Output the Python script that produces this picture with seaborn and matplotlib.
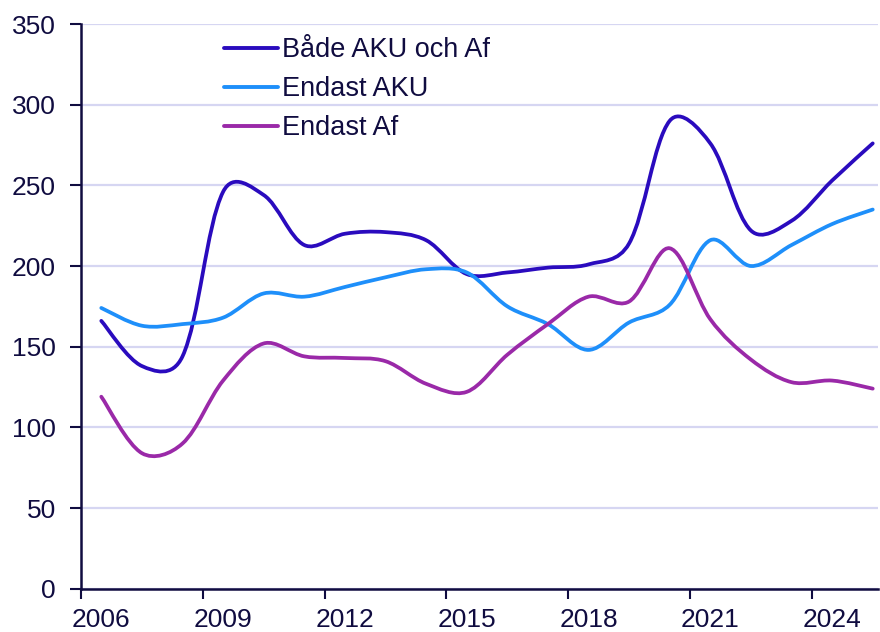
import numpy as np
import pandas as pd
import matplotlib
matplotlib.use("Agg")
import matplotlib.pyplot as plt
from matplotlib.path import Path
from matplotlib.patches import PathPatch
from matplotlib.lines import Line2D
import seaborn as sns

years = list(range(2006, 2026))
bade = [166, 138, 144, 246, 244, 213, 220, 221, 216, 195, 196, 199, 201, 214, 290, 276, 222, 228, 253, 276]
endast_aku = [174, 163, 164, 168, 183, 181, 187, 193, 198, 196, 175, 164, 148, 165, 176, 216, 200, 213, 226, 235]
endast_af = [119, 84, 90, 129, 152, 144, 143, 141, 127, 122, 145, 164, 181, 178, 211, 167, 142, 128, 129, 124]
series_names = ["Både AKU och Af", "Endast AKU", "Endast Af"]
colors = ["#2A0BBE", "#1E8FFA", "#9A29A8"]
tick_years = [2006, 2009, 2012, 2015, 2018, 2021, 2024]

text_col = "#100C40"
grid_col = "#D6D6F2"

sns.set_theme(style="white")
plt.rcParams["font.family"] = ["Liberation Sans", "DejaVu Sans"]

df = pd.DataFrame({
    "x": [y + 0.5 for y in years] * 3,
    "value": bade + endast_aku + endast_af,
    "serie": sum([[n] * len(years) for n in series_names], []),
})

fig = plt.figure(figsize=(8.8, 6.32), dpi=100)
ax = fig.add_axes([81 / 880, (632 - 588.7) / 632, (878 - 81) / 880, (588.7 - 24) / 632])

# register data through seaborn (invisible), then draw Excel-style smoothed curves
sns.lineplot(data=df, x="x", y="value", hue="serie", palette=colors,
             hue_order=series_names, linewidth=0, legend=False, ax=ax)

ax.set_xlim(2006, 2025.63)
ax.set_ylim(0, 350)

BLEND = 0.6  # mix of uniform Catmull-Rom and chord-length weighting


def smooth_path(xs, ys):
    pts = np.column_stack([xs, ys]).astype(float)
    disp = ax.transData.transform(pts)
    n = len(pts)
    seg = np.hypot(*(np.diff(disp, axis=0).T))
    verts = [pts[0]]
    codes = [Path.MOVETO]

    def tangent(i):
        a = pts[i - 1] if i > 0 else pts[i]
        b = pts[i + 1] if i < n - 1 else pts[i]
        return b - a

    def w_out(i):
        if i == 0:
            return 0.5
        return BLEND * 0.5 + (1 - BLEND) * seg[i] / (seg[i - 1] + seg[i])

    def w_in(i):
        if i == n - 1:
            return 0.5
        return BLEND * 0.5 + (1 - BLEND) * seg[i - 1] / (seg[i - 1] + seg[i])

    for i in range(n - 1):
        p1, p2 = pts[i], pts[i + 1]
        c1 = p1 + tangent(i) * w_out(i) / 3.0
        c2 = p2 - tangent(i + 1) * w_in(i + 1) / 3.0
        verts += [c1, c2, p2]
        codes += [Path.CURVE4] * 3
    return Path(verts, codes)


handles = []
for name, col in zip(series_names, colors):
    sub = df[df["serie"] == name]
    patch = PathPatch(smooth_path(sub["x"].values, sub["value"].values),
                      facecolor="none", edgecolor=col, linewidth=2.7,
                      capstyle="round", joinstyle="round", zorder=3)
    ax.add_patch(patch)
    handles.append(Line2D([0], [0], color=col, linewidth=2.8))

ax.set_yticks(range(0, 351, 50))
ax.set_xticks(tick_years)
ax.set_xticklabels([])
ax.set_xticks([t + 0.5 for t in tick_years], minor=True)
ax.set_xticklabels([str(t) for t in tick_years], minor=True)
ax.tick_params(axis="x", which="major", direction="out", length=7, width=1.5, color=text_col, bottom=True)
ax.tick_params(axis="x", which="minor", length=0, pad=14, labelsize=19, labelcolor=text_col, bottom=True)
ax.tick_params(axis="y", direction="out", length=8, width=1.5, color=text_col, left=True,
               labelsize=19, labelcolor=text_col, pad=10)

ax.grid(False)
ax.yaxis.grid(True, color=grid_col, linewidth=1.6)
ax.set_axisbelow(True)
for s in ["top", "right"]:
    ax.spines[s].set_visible(False)
for s in ["left", "bottom"]:
    ax.spines[s].set_color(text_col)
    ax.spines[s].set_linewidth(1.8)
ax.set_xlabel("")
ax.set_ylabel("")

leg = ax.legend(handles, series_names, loc="upper left",
                bbox_to_anchor=(224 / 880, 1 - 37 / 632), bbox_transform=fig.transFigure,
                frameon=False, fontsize=19.5, handlelength=2.0, handletextpad=0.15,
                labelspacing=0.48, borderpad=0, borderaxespad=0)
for t in leg.get_texts():
    t.set_color(text_col)

fig.savefig("out.png", dpi=100)
